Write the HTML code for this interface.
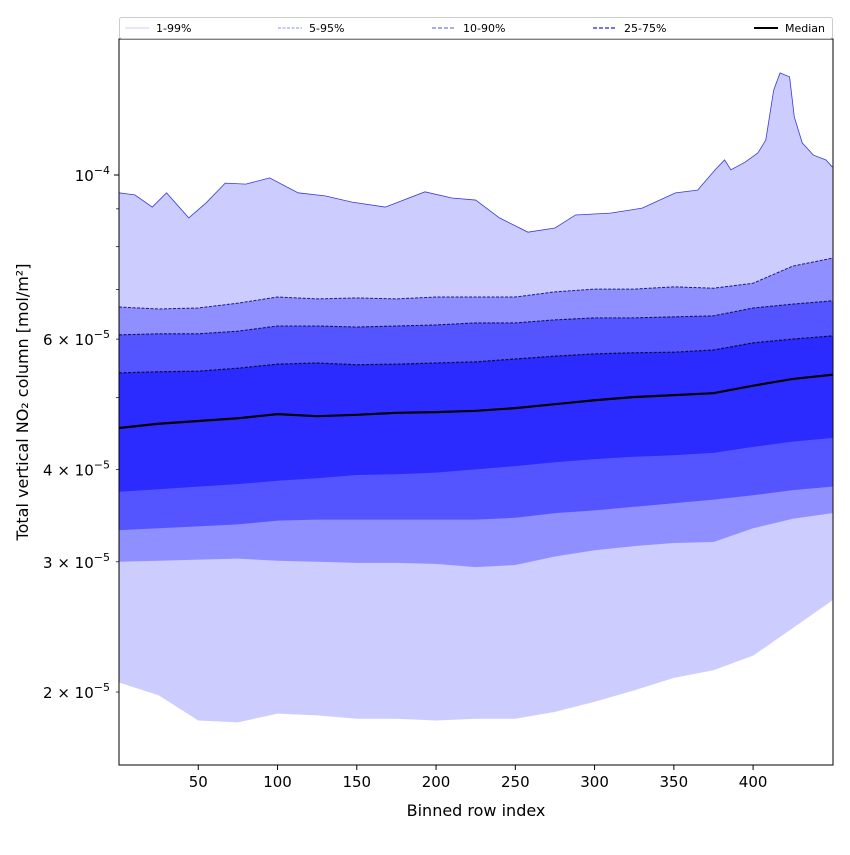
<!DOCTYPE html>
<html><head><meta charset="utf-8"><style>
html,body{margin:0;padding:0;background:#fff;}
svg text{font-family:"DejaVu Sans","Liberation Sans",sans-serif;fill:#000;}
</style></head><body>
<svg id="chart" width="850" height="850" viewBox="0 0 850 850" xmlns="http://www.w3.org/2000/svg">
<g id="plot"></g>
<g id="axes"></g>
<text x="476" y="816" font-size="16" text-anchor="middle">Binned row index</text>
<text transform="translate(28,402) rotate(-90)" font-size="16" text-anchor="middle">Total vertical NO₂ column [mol/m²]</text>
<g id="legend"></g>
</svg>
<script>
// data (values in units of 1e-5 mol/m^2)
const rowsTop = [0,10,21,30,44,55,67,80,95,113,130,147,168,193,210,225,240,258,275,288,310,330,351,365,376,382,386,395,403,408,413,417,423,426,431,438,446,450];
const p99 = [9.46,9.40,9.05,9.46,8.75,9.17,9.75,9.72,9.91,9.46,9.37,9.19,9.05,9.49,9.31,9.25,8.75,8.37,8.48,8.83,8.88,9.02,9.46,9.54,10.16,10.48,10.16,10.41,10.71,11.15,13.03,13.74,13.57,11.98,11.05,10.64,10.48,10.25];
const rows = [0,25,50,75,100,125,150,175,200,225,250,275,300,325,350,375,400,425,450];
const p95 = [6.63,6.59,6.61,6.71,6.84,6.80,6.82,6.80,6.84,6.84,6.84,6.95,7.01,7.01,7.06,7.03,7.14,7.53,7.72];
const p90 = [6.08,6.10,6.10,6.15,6.25,6.25,6.23,6.25,6.27,6.31,6.31,6.37,6.41,6.41,6.43,6.45,6.61,6.69,6.76];
const p75 = [5.40,5.42,5.43,5.48,5.55,5.57,5.54,5.55,5.57,5.59,5.64,5.69,5.73,5.75,5.76,5.80,5.93,6.00,6.06];
const p50 = [4.55,4.61,4.65,4.69,4.75,4.72,4.74,4.77,4.78,4.80,4.84,4.90,4.96,5.01,5.04,5.07,5.19,5.30,5.37];
const p25 = [3.73,3.76,3.79,3.82,3.86,3.89,3.93,3.94,3.96,4.00,4.04,4.09,4.13,4.16,4.18,4.21,4.29,4.36,4.41];
const p10 = [3.31,3.33,3.35,3.37,3.41,3.42,3.42,3.42,3.42,3.42,3.44,3.49,3.52,3.56,3.60,3.64,3.69,3.75,3.79];
const p5  = [3.00,3.01,3.02,3.03,3.01,3.00,2.99,2.99,2.98,2.95,2.97,3.05,3.11,3.15,3.18,3.19,3.33,3.43,3.49];
const p1  = [2.06,1.98,1.83,1.82,1.87,1.86,1.84,1.84,1.83,1.84,1.84,1.88,1.94,2.01,2.09,2.14,2.24,2.44,2.66];
const xTicks = [50,100,150,200,250,300,350,400];
const yMajor = [{v:10,m:"10",e:"−4"}];
const yLabeled = [{v:2,m:"2"},{v:3,m:"3"},{v:4,m:"4"},{v:6,m:"6"}];
const yMinorUnl = [5,7,8,9];

const L=119,R=833,T=39,B=765;
const X0=0,X1=450.4;
const Y1E=10, PXD=739.7, Y1P=175;
function sx(r){return L+(r-X0)/(X1-X0)*(R-L);}
function sy(v){return Y1P-Math.log10(v/Y1E)*PXD;}
const NS="http://www.w3.org/2000/svg";
function mk(tag,attrs,parent){const e=document.createElementNS(NS,tag);for(const k in attrs)e.setAttribute(k,attrs[k]);parent.appendChild(e);return e;}
const plot=document.getElementById('plot');
const axes=document.getElementById('axes');
const legend=document.getElementById('legend');

function linePts(xs,vs){return xs.map((r,i)=>sx(r).toFixed(2)+","+sy(vs[i]).toFixed(2));}
function band(upX,up,loX,lo,fill,name){
  const pts=linePts(upX,up).concat(linePts(loX,lo).reverse());
  const p=mk('polygon',{points:pts.join(' '),fill:fill},plot);
  
  
}
band(rowsTop,p99,rows,p1,'#ccccff','band-1-99');
band(rows,p95,rows,p5,'#8f8fff','band-5-95');
band(rows,p90,rows,p10,'#5555ff','band-10-90');
band(rows,p75,rows,p25,'#2b2bff','band-25-75');
function line(xs,vs,stroke,w,dash,name){
  const a={points:linePts(xs,vs).join(' '),fill:'none',stroke:stroke,'stroke-width':w};
  if(dash)a['stroke-dasharray']=dash;
  const p=mk('polyline',a,plot);
  
  
}
line(rowsTop,p99,'#3a3ad8',0.8,null,'line-p99');
line(rows,p95,'#1a1a80',1,'3,1.5','line-p95');
line(rows,p90,'#141460',1.1,'3,1.5','line-p90');
line(rows,p75,'#0c0c40',1.2,'3,1.5','line-p75');
line(rows,p50,'#000',2.2,null,'line-median');

const fr=mk('rect',{x:L,y:T,width:R-L,height:B-T,fill:'none',stroke:'#000','stroke-width':1},axes);


xTicks.forEach(t=>{
  const x=sx(t);
  const tk=mk('line',{x1:x,y1:B,x2:x,y2:B+5,stroke:'#000','stroke-width':1},axes);
  
  
  const tx=mk('text',{x:x,y:B+22,'font-size':15,'text-anchor':'middle'},axes);
  tx.textContent=t;
  
  
});
function ytick(v,len){
  const y=sy(v);
  const tk=mk('line',{x1:L-len,y1:y,x2:L,y2:y,stroke:'#000','stroke-width':len>3?1:0.7},axes);
  
  
  return y;
}
yMajor.forEach(o=>{
  const y=ytick(o.v,5);
  const t=mk('text',{x:L-9,y:y+6,'font-size':15,'text-anchor':'end'},axes);
  
  
  mk('tspan',{},t).textContent=o.m;
  mk('tspan',{dy:-7,'font-size':11},t).textContent=o.e;
});
yLabeled.forEach(o=>{
  const y=ytick(o.v,3);
  const t=mk('text',{x:L-9,y:y+6,'font-size':15,'text-anchor':'end'},axes);
  
  
  mk('tspan',{},t).textContent=o.m+" × 10";
  mk('tspan',{dy:-7,'font-size':11},t).textContent="−5";
});
yMinorUnl.forEach(v=>ytick(v,3));

const lb=mk('rect',{x:119.5,y:17.5,width:713,height:21,fill:'#fff',stroke:'#ccc','stroke-width':1,rx:2},legend);


const entries=[
  {x:125,label:'1-99%',stroke:'#ccccff',w:1,dash:null},
  {x:278,label:'5-95%',stroke:'#8f8fff',w:1,dash:'3,1.5'},
  {x:432,label:'10-90%',stroke:'#7777ee',w:1.2,dash:'4,2'},
  {x:593,label:'25-75%',stroke:'#4545ee',w:1.4,dash:'4,2'},
  {x:754,label:'Median',stroke:'#000',w:2,dash:null}
];
entries.forEach(e=>{
  const g=mk('g',{},legend);
  
  
  const a={x1:e.x,y1:28,x2:e.x+24,y2:28,stroke:e.stroke,'stroke-width':e.w};
  if(e.dash)a['stroke-dasharray']=e.dash;
  mk('line',a,g);
  const t=mk('text',{x:e.x+31,y:32,'font-size':11},g);
  t.textContent=e.label;
});
</script>
</body></html>
